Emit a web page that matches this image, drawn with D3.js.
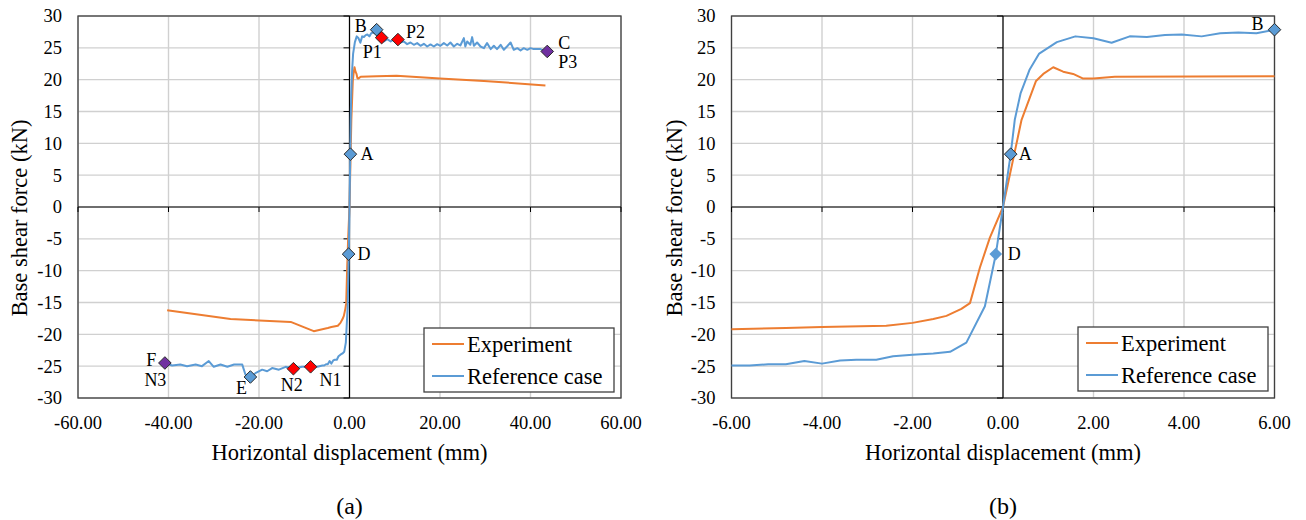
<!DOCTYPE html>
<html><head><meta charset="utf-8">
<script src="https://cdn.jsdelivr.net/npm/d3@7"></script>
<style>
body{margin:0;background:#fff}
svg{display:block}
</style>
</head><body>
<svg id="c" width="1306" height="520"></svg>
<script>
// ---------------- data ----------------
const seriesNames = ["Experiment", "Reference case"];

const expX = [-40.3, -26.3, -13.0, -7.9, -6.0, -4.8, -4.0, -2.58, -2.0, -1.54, -1.25, -0.92, -0.73, -0.51, -0.29, 0,
  0.41, 0.73, 0.89, 1.11, 1.33, 1.55, 1.76, 2.0, 2.47, 6.0, 10.4, 20.0, 29.7, 43.3];
const expF = [-16.2, -17.6, -18.05, -19.5, -19.2, -19.0, -18.85, -18.65, -18.2, -17.6, -17.1, -16.0, -15.1, -9.5, -4.8, 0,
  13.7, 19.8, 20.9, 21.95, 21.25, 20.9, 20.2, 20.2, 20.45, 20.55, 20.6, 20.2, 19.8, 19.1];

const refX = [-40.8, -39.2, -37.4, -35.9, -34.0, -32.6, -31.1, -30.0, -28.5, -27.0, -25.5, -23.7, -23.0, -21.9, -20.8,
  -19.3, -18.2, -17.1, -15.6, -14.1, -12.4, -10.5, -8.6, -7.1, -6.0, -5.6, -5.19, -4.8, -4.39, -4.0, -3.6, -3.24, -2.8,
  -2.43, -2.0, -1.54, -1.17, -0.81, -0.40, -0.22, -0.16, 0,
  0.17, 0.26, 0.39, 0.59, 0.80, 1.19, 1.6, 2.0, 2.4, 2.8, 3.18, 3.58, 3.95, 4.39, 4.8, 5.2, 5.6, 6.0,
  7.1, 7.6, 8.35, 9.1, 9.8, 10.7, 11.27, 12.0, 12.74, 13.48, 14.22, 14.95, 15.69, 16.43, 17.17, 17.9, 18.64, 19.38,
  20.1, 20.85, 21.6, 22.3, 23.06, 23.8, 24.5, 25.27, 25.6, 26.0, 26.7, 27.1, 27.5, 28.2, 28.95, 29.7, 30.4, 31.2,
  31.9, 32.6, 33.4, 34.1, 34.8, 35.6, 36.3, 37.1, 37.8, 38.5, 39.3, 40.0, 40.7, 42.2, 43.7];
const refF = [-24.5, -24.9, -24.75, -25.0, -24.75, -25.0, -24.2, -25.1, -24.75, -25.1, -24.75, -24.75, -26.3, -26.7, -26.1,
  -25.55, -25.8, -25.3, -25.55, -25.1, -25.4, -25.1, -25.1, -25.1, -24.9, -24.9, -24.7, -24.7, -24.2, -24.6, -24.1, -24.0, -24.0,
  -23.45, -23.2, -23.0, -22.75, -21.3, -15.6, -9.5, -7.45, 0,
  8.3, 13.7, 17.9, 21.6, 24.1, 25.9, 26.8, 26.5, 25.8, 26.8, 26.7, 27.0, 27.1, 26.8, 27.3, 27.4, 27.3, 27.85,
  26.6, 26.0, 26.36, 26.0, 26.36, 26.3, 25.84, 26.0, 25.58, 25.84, 25.48, 25.74, 25.32, 25.63, 25.21, 25.53, 25.21, 25.58,
  25.32, 25.74, 25.37, 25.84, 25.21, 25.63, 25.37, 26.52, 25.21, 26.0, 25.48, 26.68, 25.32, 25.84, 25.21, 24.95, 25.74, 24.8,
  25.32, 24.8, 25.48, 24.69, 25.21, 25.84, 24.69, 24.95, 24.59, 24.95, 24.69, 24.95, 24.8, 24.8, 24.43];

const yTicks = [-30, -25, -20, -15, -10, -5, 0, 5, 10, 15, 20, 25, 30];
const xTicksA = [-60, -40, -20, 0, 20, 40, 60];
const xTicksB = [-6, -4, -2, 0, 2, 4, 6];

// marked points, panel (a)
const ptNamesA = ["A", "B", "C", "D", "E", "F", "P1", "P2", "N1", "N2"];
const ptXA = [0.2, 6.0, 43.7, -0.2, -21.9, -40.8, 7.1, 10.7, -8.6, -12.4];
const ptYA = [8.3, 27.85, 24.43, -7.4, -26.7, -24.5, 26.6, 26.3, -25.1, -25.4];
const ptKindA = ["ref", "ref", "ult", "ref", "ref", "ult", "peak", "peak", "peak", "peak"];
// marked points, panel (b)
const ptNamesB = ["A", "D", "B"];
const ptXB = [0.17, -0.16, 6.0];
const ptYB = [8.3, -7.4, 27.85];
const ptKindB = ["ref", "refPlain", "ref"];
// extra labels sharing a point (label, point)
const extraLabelsA = [["P3", "C"], ["N3", "F"]];

const xTitle = "Horizontal displacement (mm)";
const yTitle = "Base shear force (kN)";
const panelLetters = ["(a)", "(b)"];

// ---------------- styles ----------------
const FONT = '"Liberation Serif", "Times New Roman", serif';
const colExp = "#ED7D31", colRef = "#5B9BD5";
const kindFill = {ref: "#5B9BD5", refPlain: "#5B9BD5", peak: "#FF0000", ult: "#7030A0"};
const svg = d3.select("#c");

const fmtX = d => d3.format(".2f")(d).replace("\u2212", "-");

function txt(sel) { return sel.style("font-family", FONT).attr("fill", "#000"); }

function panel(cfg) {
  const {L, R, T, B, xDom, xTicks, names, px, py, kinds, labelOff, extra, legend, yTitleX, id, letter} = cfg;
  const x = d3.scaleLinear().domain(xDom).range([L, R]);
  const y = d3.scaleLinear().domain([-30, 30]).range([B, T]);
  const g = svg.append("g");

  g.append("clipPath").attr("id", "clip" + id).append("rect")
    .attr("x", L).attr("y", T).attr("width", R - L).attr("height", B - T);

  // gridlines
  g.append("g").selectAll("line").data(yTicks).join("line")
    .attr("x1", L).attr("x2", R).attr("y1", d => y(d)).attr("y2", d => y(d))
    .attr("stroke", "#d0d0d0").attr("stroke-width", 1.4);
  g.append("g").selectAll("line").data(xTicks).join("line")
    .attr("y1", T).attr("y2", B).attr("x1", d => x(d)).attr("x2", d => x(d))
    .attr("stroke", "#d0d0d0").attr("stroke-width", 1.4);

  // plot border
  g.append("rect").attr("x", L).attr("y", T).attr("width", R - L).attr("height", B - T)
    .attr("fill", "none").attr("stroke", "#404040").attr("stroke-width", 1.3);

  // zero axes with ticks
  const y0 = y(0), x0 = x(0);
  g.append("line").attr("x1", L).attr("x2", R).attr("y1", y0).attr("y2", y0).attr("stroke", "#000").attr("stroke-width", 1.2);
  g.append("line").attr("x1", x0).attr("x2", x0).attr("y1", T).attr("y2", B).attr("stroke", "#000").attr("stroke-width", 1.2);
  g.append("g").selectAll("line").data(xTicks).join("line")
    .attr("x1", d => x(d)).attr("x2", d => x(d)).attr("y1", y0).attr("y2", y0 + 5)
    .attr("stroke", "#000").attr("stroke-width", 1);
  g.append("g").selectAll("line").data(yTicks).join("line")
    .attr("x1", x0 - 6).attr("x2", x0).attr("y1", d => y(d)).attr("y2", d => y(d))
    .attr("stroke", "#000").attr("stroke-width", 1);

  // tick labels
  txt(g.append("g").selectAll("text").data(yTicks).join("text"))
    .attr("x", L - 16).attr("y", d => y(d)).attr("dy", "0.35em")
    .attr("text-anchor", "end").attr("font-size", 18.5).text(d => String(d));
  txt(g.append("g").selectAll("text").data(xTicks).join("text"))
    .attr("x", d => x(d)).attr("y", B + 25).attr("dy", "0.35em")
    .attr("text-anchor", "middle").attr("font-size", 18.5).text(fmtX);

  // titles
  txt(g.append("text")).attr("x", (L + R) / 2).attr("y", 452).attr("dy", "0.35em")
    .attr("text-anchor", "middle").attr("font-size", 22.5).text(xTitle);
  txt(g.append("text")).attr("transform", `translate(${yTitleX},218) rotate(-90)`).attr("dy", "0.35em")
    .attr("text-anchor", "middle").attr("font-size", 22.5).text(yTitle);
  txt(g.append("text")).attr("x", (L + R) / 2).attr("y", 506).attr("dy", "0.35em")
    .attr("text-anchor", "middle").attr("font-size", 24).text(letter);

  // lines
  const line = d3.line().x(d => x(d[0])).y(d => y(d[1]));
  const lines = g.append("g").attr("clip-path", `url(#clip${id})`);
  lines.append("path").datum(d3.zip(expX, expF)).attr("d", line)
    .attr("fill", "none").attr("stroke", colExp).attr("stroke-width", 2).attr("stroke-linejoin", "round");
  lines.append("path").datum(d3.zip(refX, refF)).attr("d", line)
    .attr("fill", "none").attr("stroke", colRef).attr("stroke-width", 2).attr("stroke-linejoin", "round");

  // markers
  const pts = names.map((n, i) => ({n, x: px[i], y: py[i], k: kinds[i]}));
  const s = 6.3;
  g.append("g").selectAll("path").data(pts).join("path")
    .attr("d", `M0,${-s}L${s},0L0,${s}L${-s},0Z`)
    .attr("transform", d => `translate(${x(d.x)},${y(d.y)})`)
    .attr("fill", d => kindFill[d.k])
    .attr("stroke", d => d.k === "refPlain" ? "none" : "#2a2a2a").attr("stroke-width", 1);

  // labels
  const labs = pts.map(p => ({t: p.n, x: p.x, y: p.y}));
  extra.forEach(([t, p]) => { const q = pts.find(d => d.n === p); labs.push({t, x: q.x, y: q.y}); });
  txt(g.append("g").selectAll("text").data(labs).join("text"))
    .attr("x", d => x(d.x) + labelOff[d.t][0]).attr("y", d => y(d.y) + labelOff[d.t][1])
    .attr("dy", "0.35em").attr("text-anchor", d => labelOff[d.t][2])
    .attr("font-size", 18).text(d => d.t);

  // legend
  const lg = g.append("g");
  lg.append("rect").attr("x", legend[0]).attr("y", legend[1]).attr("width", 190).attr("height", 64)
    .attr("fill", "#fff").attr("stroke", "#404040").attr("stroke-width", 1.3);
  [colExp, colRef].forEach((c, i) => {
    const yy = legend[1] + 16 + i * 32;
    lg.append("line").attr("x1", legend[0] + 8).attr("x2", legend[0] + 40).attr("y1", yy).attr("y2", yy)
      .attr("stroke", c).attr("stroke-width", 2);
    txt(lg.append("text")).attr("x", legend[0] + 43).attr("y", yy).attr("dy", "0.35em")
      .attr("font-size", 22.5).text(seriesNames[i]);
  });
}

panel({
  L: 78, R: 621, T: 16, B: 398, xDom: [-60, 60], xTicks: xTicksA,
  names: ptNamesA, px: ptXA, py: ptYA, kinds: ptKindA, extra: extraLabelsA,
  labelOff: {
    A: [10, 0, "start"], D: [9, 0, "start"], B: [-10, -4, "end"], P1: [-19, 14, "start"],
    P2: [8, -8, "start"], C: [11, -9, "start"], P3: [11, 10, "start"], F: [-8.5, -3, "end"],
    N3: [-9.5, 17, "middle"], E: [-9, 11, "middle"], N2: [-1.6, 16, "middle"], N1: [9, 13, "start"]
  },
  legend: [424, 328], yTitleX: 19, id: "a", letter: panelLetters[0]
});
panel({
  L: 731.5, R: 1274.5, T: 16, B: 398, xDom: [-6, 6], xTicks: xTicksB,
  names: ptNamesB, px: ptXB, py: ptYB, kinds: ptKindB, extra: [],
  labelOff: {A: [8, 0, "start"], D: [12, 0, "start"], B: [-11, -6, "end"]},
  legend: [1078, 327], yTitleX: 674, id: "b", letter: panelLetters[1]
});
</script>
</body></html>
